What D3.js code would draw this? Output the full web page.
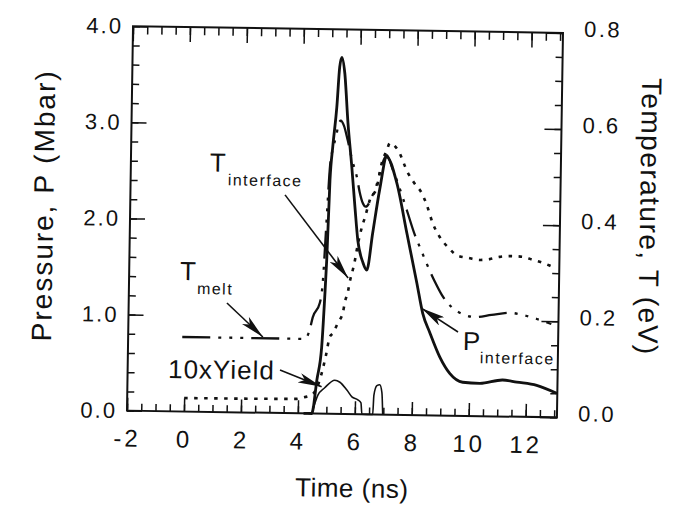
<!DOCTYPE html>
<html>
<head>
<meta charset="utf-8">
<script src="https://cdn.jsdelivr.net/npm/d3@7"></script>
<style>
  body { margin: 0; background: #fff; }
  svg { display: block; }
  text { font-family: "Liberation Sans", Arial, Helvetica, sans-serif; fill: #111; }
</style>
</head>
<body>
<svg id="chart" width="682" height="512"></svg>
<script>
/*global d3 */

// P_interface (Mbar) against time (ns)
var pTime = [4.2, 4.49, 4.65, 4.80, 4.88, 4.93, 5.00, 5.08, 5.20, 5.28, 5.35, 5.46, 5.60, 5.76,
    5.89, 6.01, 6.20, 6.34, 6.53, 6.75, 6.98, 7.35, 7.73, 8.11, 8.33, 8.59, 8.95, 9.31, 9.77,
    10.37, 11.17, 11.67, 12.37, 13.08];
var pInterface = [0, 0, 0.35, 0.69, 1.21, 1.60, 2.43, 2.78, 3.19, 3.61, 3.71, 3.55, 3.03, 2.57,
    2.16, 1.81, 1.58, 1.50, 1.89, 2.34, 2.68, 2.41, 1.89, 1.37, 1.06, 0.86, 0.61, 0.44, 0.35,
    0.34, 0.38, 0.36, 0.33, 0.25];

// 10 x yield, read on the pressure axis
var yieldTime = [4.49, 4.69, 4.93, 5.28, 5.46, 5.71, 5.89, 6.10, 6.21, 6.25, 6.63, 6.66, 6.76,
    6.86, 6.94, 6.98];
var yieldTen = [0, 0.19, 0.27, 0.35, 0.33, 0.25, 0.18, 0.15, 0.12, 0, 0, 0.20, 0.30, 0.31,
    0.23, 0];

// T_melt (eV)
var meltTime = [-0.1, 4.21, 4.37, 4.47, 4.71, 4.80, 4.88, 4.93, 5.00, 5.08, 5.20, 5.28, 5.35,
    5.46, 5.60, 5.76, 5.94, 6.05, 6.16, 6.27, 6.51, 6.64, 6.74, 6.84, 6.98, 7.20, 7.38, 7.71,
    8.01, 8.19, 8.74, 8.99, 9.34, 9.81, 10.16, 10.75, 11.39, 11.84, 12.34, 12.85];
var tMelt = [0.155, 0.155, 0.174, 0.20, 0.23, 0.27, 0.37, 0.44, 0.52, 0.55, 0.58, 0.605, 0.61,
    0.60, 0.57, 0.53, 0.494, 0.462, 0.44, 0.432, 0.457, 0.478, 0.503, 0.524, 0.54, 0.51, 0.483,
    0.427, 0.375, 0.35, 0.278, 0.251, 0.226, 0.21, 0.206, 0.211, 0.216, 0.212, 0.204, 0.194];

// T_interface (eV)
var ifaceTime = [0, 3.96, 4.1, 4.5, 4.75, 4.95, 5.08, 5.19, 5.36, 5.53, 5.59, 5.69, 5.75, 5.85,
    5.92, 5.98, 6.14, 6.25, 6.41, 6.65, 6.81, 6.98, 7.08, 7.37, 7.73, 7.96, 8.23, 8.41, 8.63,
    8.89, 9.17, 9.53, 9.88, 10.30, 10.65, 11.00, 11.42, 11.81, 12.16, 12.52, 12.87, 13.0];
var tInterface = [0.028, 0.030, 0.032, 0.04, 0.07, 0.12, 0.16, 0.168, 0.19, 0.212, 0.233, 0.254,
    0.275, 0.30, 0.32, 0.342, 0.388, 0.41, 0.446, 0.473, 0.524, 0.55, 0.565, 0.551, 0.504,
    0.483, 0.462, 0.438, 0.40, 0.371, 0.351, 0.333, 0.329, 0.325, 0.327, 0.332, 0.334, 0.333,
    0.327, 0.321, 0.313, 0.31];

var xTicks = [-2, 0, 2, 4, 6, 8, 10, 12];
var pTicks = [0, 1, 2, 3, 4];
var tTicks = [0, 0.2, 0.4, 0.6, 0.8];

// annotation texts, placed in data units (time, pressure)
var labels = [
    {text: "T", t: 0.77, p: 2.50, sub: false},
    {text: "interface", t: 1.41, p: 2.36, sub: true},
    {text: "T", t: -0.21, p: 1.367, sub: false},
    {text: "melt", t: 0.39, p: 1.224, sub: true},
    {text: "10xYield", t: -0.58, p: 0.347, sub: false},
    {text: "P", t: 9.76, p: 0.686, sub: false},
    {text: "interface", t: 10.36, p: 0.55, sub: true}
];
var arrows = [
    {from: [3.43, 2.27], to: [5.69, 1.416]},
    {from: [1.45, 1.136], to: [2.73, 0.788]},
    {from: [3.35, 0.447], to: [4.82, 0.28]},
    {from: [9.58, 0.872], to: [8.29, 1.112]}
];

(function () {
    "use strict";

    var ch = {}; //chart state

    function pairs (xs, ys) {
        return xs.map(function (t, i) { return {t: t, v: ys[i]}; });
    }

    function styleAxis (g, size, spacing) {
        g.select(".domain").remove();
        g.selectAll(".tick line").attr("stroke", "#111").attr("stroke-width", 1.5);
        g.selectAll(".tick text")
            .attr("fill", "#111")
            .style("font-family", "'Liberation Sans', Arial, sans-serif")
            .style("font-size", size + "px")
            .style("letter-spacing", spacing + "px");
    }

    function drawAxes () {
        var g = ch.plot, fmt = d3.format(".1f");
        var xMinor = d3.range(-2, 13.01, 0.5),
            pMinor = d3.range(0, 4.01, 0.2),
            tMinor = d3.range(0, 0.801, 0.05);
        //bottom
        g.append("g").attr("transform", "translate(0," + ch.bottom + ")")
            .call(d3.axisBottom(ch.x).tickValues(xMinor).tickSizeInner(-7)
                  .tickSizeOuter(0).tickFormat(""))
            .call(styleAxis, 0, 0);
        g.append("g").attr("transform", "translate(0," + ch.bottom + ")")
            .call(d3.axisBottom(ch.x).tickValues(xTicks).tickSizeInner(-13)
                  .tickSizeOuter(0).tickPadding(19).tickFormat(String))
            .call(styleAxis, 24, 3);
        //top
        g.append("g").attr("transform", "translate(0," + ch.top + ")")
            .call(d3.axisTop(ch.x).tickValues(xMinor).tickSizeInner(-8)
                  .tickSizeOuter(0).tickFormat(""))
            .call(styleAxis, 0, 0);
        g.append("g").attr("transform", "translate(0," + ch.top + ")")
            .call(d3.axisTop(ch.x).tickValues(xTicks).tickSizeInner(-15)
                  .tickSizeOuter(0).tickFormat(""))
            .call(styleAxis, 0, 0);
        //left
        g.append("g").attr("transform", "translate(" + ch.left + ",0)")
            .call(d3.axisLeft(ch.y).tickValues(pMinor).tickSizeInner(-7)
                  .tickSizeOuter(0).tickFormat(""))
            .call(styleAxis, 0, 0);
        g.append("g").attr("transform", "translate(" + ch.left + ",0)")
            .call(d3.axisLeft(ch.y).tickValues(pTicks).tickSizeInner(-15)
                  .tickSizeOuter(0).tickPadding(10).tickFormat(fmt))
            .call(styleAxis, 22, 2);
        //right
        g.append("g").attr("transform", "translate(" + ch.right + ",0)")
            .call(d3.axisRight(ch.yT).tickValues(tMinor).tickSizeInner(-7)
                  .tickSizeOuter(0).tickFormat(""))
            .call(styleAxis, 0, 0);
        g.append("g").attr("class", "raxis")
            .attr("transform", "translate(" + ch.right + ",0)")
            .call(d3.axisRight(ch.yT).tickValues(tTicks).tickSizeInner(-17)
                  .tickSizeOuter(0).tickPadding(21).tickFormat(fmt))
            .call(styleAxis, 22, 2.5);
        g.selectAll(".raxis .tick text").attr("dy", "0.14em");
        //frame
        g.append("rect")
            .attr("x", ch.left).attr("y", ch.top)
            .attr("width", ch.right - ch.left).attr("height", ch.bottom - ch.top)
            .attr("fill", "none").attr("stroke", "#111").attr("stroke-width", 2);
    }

    function drawCurves () {
        var lineP = d3.line().curve(d3.curveMonotoneX)
                .x(function (d) { return ch.x(d.t); })
                .y(function (d) { return ch.y(d.v); }),
            lineT = d3.line().curve(d3.curveMonotoneX)
                .x(function (d) { return ch.x(d.t); })
                .y(function (d) { return ch.yT(d.v); });
        ch.plot.append("path").datum(pairs(ifaceTime, tInterface))
            .attr("d", lineT).attr("fill", "none").attr("stroke", "#111")
            .attr("stroke-width", 2.6).attr("stroke-dasharray", "3.5,6.5");
        ch.plot.append("path").datum(pairs(meltTime, tMelt))
            .attr("d", lineT).attr("fill", "none").attr("stroke", "#111")
            .attr("stroke-width", 2.3).attr("stroke-dasharray", "28,8,3,8,3,8,3,8");
        ch.plot.append("path").datum(pairs(yieldTime, yieldTen))
            .attr("d", lineP).attr("fill", "none").attr("stroke", "#111")
            .attr("stroke-width", 1.6);
        ch.plot.append("path").datum(pairs(pTime, pInterface))
            .attr("d", lineP).attr("fill", "none").attr("stroke", "#111")
            .attr("stroke-width", 2.8).attr("stroke-linejoin", "round");
    }

    function drawNotes () {
        ch.svg.append("defs").append("marker")
            .attr("id", "head")
            .attr("viewBox", "0 0 24 10")
            .attr("refX", 24).attr("refY", 5)
            .attr("markerWidth", 24).attr("markerHeight", 10)
            .attr("markerUnits", "userSpaceOnUse")
            .attr("orient", "auto")
            .append("path").attr("d", "M0,0L24,5L0,10L6,5Z").attr("fill", "#111");
        ch.plot.selectAll("line.arrow").data(arrows).enter().append("line")
            .attr("class", "arrow")
            .attr("x1", function (d) { return ch.x(d.from[0]); })
            .attr("y1", function (d) { return ch.y(d.from[1]); })
            .attr("x2", function (d) { return ch.x(d.to[0]); })
            .attr("y2", function (d) { return ch.y(d.to[1]); })
            .attr("stroke", "#111").attr("stroke-width", 1.6)
            .attr("marker-end", "url(#head)");
        ch.plot.selectAll("text.note").data(labels).enter().append("text")
            .attr("class", "note")
            .attr("x", function (d) { return ch.x(d.t); })
            .attr("y", function (d) { return ch.y(d.p); })
            .style("font-size", function (d) { return d.sub ? "16px" : "26px"; })
            .style("letter-spacing", function (d) { return d.sub ? "1.5px" : "1px"; })
            .text(function (d) { return d.text; });
    }

    function drawTitles () {
        ch.plot.append("text")
            .attr("x", 356).attr("y", 497)
            .attr("text-anchor", "middle")
            .style("font-size", "26px").style("letter-spacing", "0.5px")
            .text("Time (ns)");
        ch.plot.append("text")
            .attr("transform", "translate(53,210) rotate(-90)")
            .attr("text-anchor", "middle")
            .style("font-size", "28px").style("letter-spacing", "2px")
            .text("Pressure, P (Mbar)");
        ch.plot.append("text")
            .attr("transform", "translate(640,212) rotate(90)")
            .attr("text-anchor", "middle")
            .style("font-size", "28px").style("letter-spacing", "1.5px")
            .text("Temperature, T (eV)");
    }

    function display () {
        ch.svg = d3.select("#chart");
        ch.left = 130; ch.right = 560; ch.top = 29.5; ch.bottom = 414;
        ch.x = d3.scaleLinear().domain([-2, 13.1]).range([ch.left, ch.right]);
        ch.y = d3.scaleLinear().domain([0, 4]).range([ch.bottom, ch.top]);
        ch.yT = d3.scaleLinear().domain([0, 0.8]).range([ch.bottom, ch.top]);
        //the scanned figure sits slightly tilted on the page
        ch.plot = ch.svg.append("g").attr("transform", "rotate(0.9,344,221)");
        drawAxes();
        drawCurves();
        drawNotes();
        drawTitles();
    }

    display();
}());
</script>
</body>
</html>
